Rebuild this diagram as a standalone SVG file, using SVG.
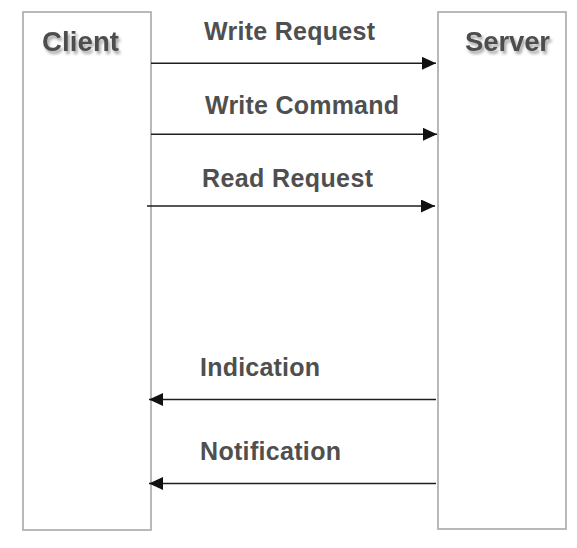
<svg xmlns="http://www.w3.org/2000/svg" width="577" height="548" viewBox="0 0 577 548">
<style>
.box{fill:#fff;stroke:#a8a8aa;stroke-width:1.6}
.title{font-family:"Liberation Sans",Arial,sans-serif;font-weight:bold;font-size:27.5px;fill:#4e4e4e}
.lbl{font-family:"Liberation Sans",Arial,sans-serif;font-weight:bold;font-size:25px;fill:#4f4f4f}
.msg{stroke:#1e1e1e;stroke-width:1.6;fill:none}
</style>
<defs>
<filter id="sh" x="-20%" y="-30%" width="140%" height="170%">
<feGaussianBlur in="SourceAlpha" stdDeviation="1.6"/>
<feOffset dx="1.5" dy="2.5" result="b"/>
<feComponentTransfer><feFuncA type="linear" slope="0.35"/></feComponentTransfer>
<feMerge><feMergeNode/><feMergeNode in="SourceGraphic"/></feMerge>
</filter>
<marker id="ah" viewBox="0 0 14 13" refX="14" refY="6.5" markerWidth="14" markerHeight="13" markerUnits="userSpaceOnUse" orient="auto">
<path d="M0,0 L14,6.5 L0,13 Z" fill="#111"/>
</marker>
</defs>
<g id="client">
<rect class="box" x="23" y="12" width="128" height="518"/>
<text class="title" x="42" y="51" textLength="77" filter="url(#sh)">Client</text>
</g>
<g id="server">
<rect class="box" x="438" y="12" width="128" height="517"/>
<text class="title" x="465" y="51" textLength="85" filter="url(#sh)">Server</text>
</g>
<g id="connectors">
<line class="msg" x1="151" y1="63.3" x2="436" y2="63.3" marker-end="url(#ah)"/>
<line class="msg" x1="151" y1="134.3" x2="437" y2="134.3" marker-end="url(#ah)"/>
<line class="msg" x1="147" y1="206" x2="435" y2="206" marker-end="url(#ah)"/>
<line class="msg" x1="436" y1="399.5" x2="149" y2="399.5" marker-end="url(#ah)"/>
<line class="msg" x1="436" y1="483.5" x2="149" y2="483.5" marker-end="url(#ah)"/>
</g>
<g id="labels">
<text class="lbl" x="204" y="40" textLength="171">Write Request</text>
<text class="lbl" x="205" y="114" textLength="194">Write Command</text>
<text class="lbl" x="202" y="187" textLength="171">Read Request</text>
<text class="lbl" x="200" y="376" textLength="120">Indication</text>
<text class="lbl" x="200" y="459.5" textLength="141">Notification</text>
</g>
</svg>
